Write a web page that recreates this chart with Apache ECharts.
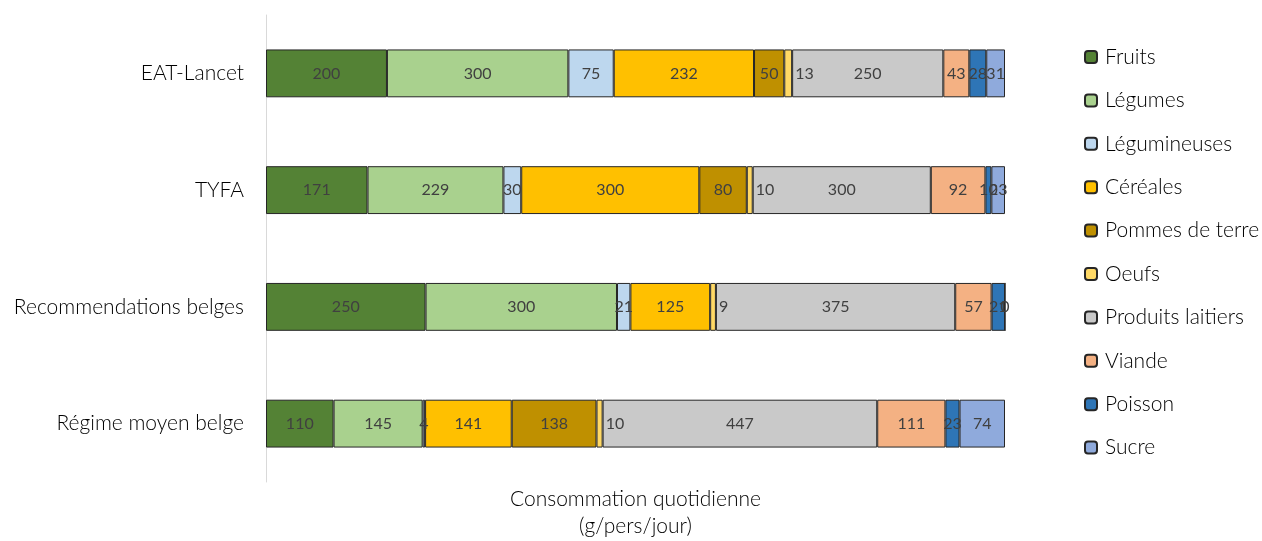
<!DOCTYPE html>
<html>
<head>
<meta charset="utf-8">
<script src="https://cdn.jsdelivr.net/npm/echarts@6/dist/echarts.min.js"></script>
<style>
  html, body { margin: 0; padding: 0; background: #fff; }
  #chart { width: 1262px; height: 541px; }
</style>
</head>
<body>
<div id="chart"></div>
<script>
// Régimes comparés (g/pers/jour)
const regimes = ['EAT-Lancet', 'TYFA', 'Recommendations belges', 'Régime moyen belge'];
const groupes = ['Fruits', 'Légumes', 'Légumineuses', 'Céréales', 'Pommes de terre', 'Oeufs',
                 'Produits laitiers', 'Viande', 'Poisson', 'Sucre'];

const fruits           = [200, 171, 250, 110];
const legumes          = [300, 229, 300, 145];
const legumineuses     = [75, 30, 21, 4];
const cereales         = [232, 300, 125, 141];
const pommesDeTerre    = [50, 80, null, 138];
const oeufs            = [13, 10, 9, 10];
const produitsLaitiers = [250, 300, 375, 447];
const viande           = [43, 92, 57, 111];
const poisson          = [28, 10, 21, 23];
const sucre            = [31, 23, 0, 74];

const valeurs = [fruits, legumes, legumineuses, cereales, pommesDeTerre, oeufs,
                 produitsLaitiers, viande, poisson, sucre];
const couleurs = ['#548235', '#A9D18E', '#BDD7EE', '#FFC000', '#BF9000', '#FFD966',
                  '#C9C9C9', '#F4B183', '#2E75B6', '#8FAADC'];

// totaux par régime pour l'empilement à 100 %
const totaux = regimes.map((_, i) => valeurs.reduce((s, v) => s + (v[i] || 0), 0));

const police = 'Lato, "Open Sans", sans-serif';

const series = groupes.map((nom, k) => ({
  name: nom,
  type: 'bar',
  stack: 'total',
  barWidth: '41%',
  itemStyle: { color: couleurs[k], borderColor: '#262626', borderWidth: 1 },
  label: {
    show: true,
    // les oeufs, trop étroits, ont leur étiquette juste à droite du segment
    position: nom === 'Oeufs' ? 'right' : 'inside',
    distance: 3,
    color: '#404040',
    fontFamily: police,
    fontWeight: 400,
    fontSize: 16,
    formatter: p => (valeurs[k][p.dataIndex] == null ? '' : String(valeurs[k][p.dataIndex]))
  },
  emphasis: { disabled: true },
  data: valeurs[k].map((v, i) => (v == null ? null : {
    value: v / totaux[i] * 100
  }))
}));

const chart = echarts.init(document.getElementById('chart'), null, { renderer: 'canvas' });
chart.setOption({
  animation: false,
  textStyle: { fontFamily: police },
  grid: { left: 266, right: 257, top: 15, bottom: 59, outerBoundsMode: 'none', containLabel: false },
  xAxis: {
    type: 'value',
    min: 0,
    max: 100,
    axisLine: { show: false },
    axisTick: { show: false },
    axisLabel: { show: false },
    splitLine: { show: false },
    name: 'Consommation quotidienne\n(g/pers/jour)',
    nameLocation: 'middle',
    nameGap: 4,
    nameTextStyle: { color: '#000', fontSize: 21, fontWeight: 300, lineHeight: 27, fontFamily: police, verticalAlign: 'top' }
  },
  yAxis: {
    type: 'category',
    inverse: true,
    data: regimes,
    axisLine: { show: true, lineStyle: { color: '#D9D9D9', width: 1 } },
    axisTick: { show: false },
    axisLabel: { color: '#000', fontSize: 21, fontWeight: 300, margin: 22, fontFamily: police }
  },
  legend: {
    orient: 'vertical',
    left: 1079,
    top: 40,
    itemWidth: 12,
    itemHeight: 12,
    itemGap: 19.4,
    textStyle: { color: '#000', fontSize: 21, fontWeight: 300, lineHeight: 24, fontFamily: police, padding: [0, 0, 0, 3] },
    data: groupes
  },
  series: series
});
</script>
</body>
</html>
